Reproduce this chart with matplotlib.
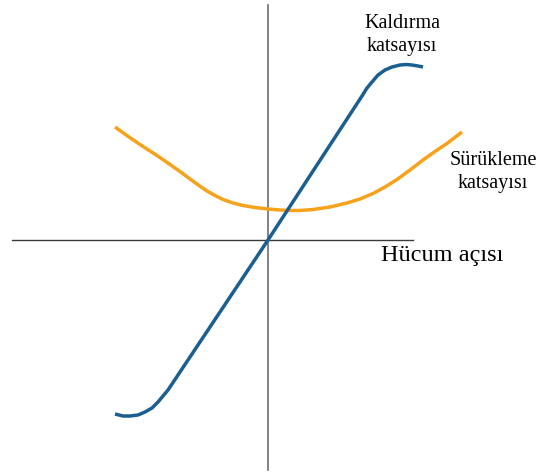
import matplotlib
matplotlib.use("Agg")
import matplotlib.pyplot as plt

# Angle of attack (arbitrary units) and coefficients (arbitrary units)
lift_angle = [-15.3, -14.5, -13.8, -13.0, -12.3, -11.6, -11.0, -10.5, -10.0,
              0.0, 9.4, 9.9, 10.4, 11.0, 11.7, 12.4, 13.2, 13.8, 14.4, 15.0, 15.5]
lift_coef = [-1.74, -1.76, -1.76, -1.75, -1.72, -1.68, -1.62, -1.56, -1.50,
             0.0, 1.44, 1.52, 1.58, 1.65, 1.70, 1.73, 1.75, 1.755, 1.75, 1.74, 1.73]

drag_angle = [-15.3, -13.9, -12.5, -11.1, -9.8, -8.8, -7.8, -6.9, -6.1, -5.3,
              -4.5, -3.5, -2.5, -1.3, 0.0, 1.2, 2.2, 3.2, 4.5, 6.2, 7.9, 9.2,
              10.5, 11.7, 12.9, 14.2, 15.5, 16.7, 17.9, 19.4]
drag_coef = [1.13, 1.03, 0.935, 0.845, 0.755, 0.685, 0.61, 0.545, 0.49, 0.445,
             0.405, 0.37, 0.345, 0.325, 0.31, 0.30, 0.295, 0.295, 0.305, 0.33, 0.37, 0.41,
             0.465, 0.53, 0.605, 0.70, 0.80, 0.885, 0.965, 1.08]

label_lift = "Kaldırma\nkatsayısı"
label_drag = "Sürükleme\nkatsayısı"
label_x = "Hücum açısı"

plt.rcParams['font.family'] = ['Liberation Serif', 'DejaVu Serif']

fig = plt.figure(figsize=(5.39, 4.73), dpi=100)
ax = fig.add_axes([0, 0, 1, 1])
ax.set_xlim(-26.8, 27.1)
ax.set_ylim(-2.33, 2.40)
ax.axis('off')

# coordinate axes
ax.plot([0, 0], [-2.30, 2.35], color='#6e6e6e', lw=1.2, zorder=1)
ax.plot([-25.6, 14.5], [0, 0], color='#3a3a3a', lw=1.0, zorder=1)

ax.plot(drag_angle, drag_coef, color='#F7A21B', lw=2.5, solid_capstyle='butt',
        solid_joinstyle='round', zorder=2)
ax.plot(lift_angle, lift_coef, color='#1B5E91', lw=2.5, solid_capstyle='butt',
        solid_joinstyle='round', zorder=3)

ax.text(13.4, 2.05, label_lift, ha='center', va='center', fontsize=14.5, linespacing=1.3)
ax.text(22.5, 0.68, label_drag, ha='center', va='center', fontsize=14.5, linespacing=1.3)
ax.text(17.4, -0.15, label_x, ha='center', va='center', fontsize=17.5)

fig.savefig('out.png', dpi=100)
